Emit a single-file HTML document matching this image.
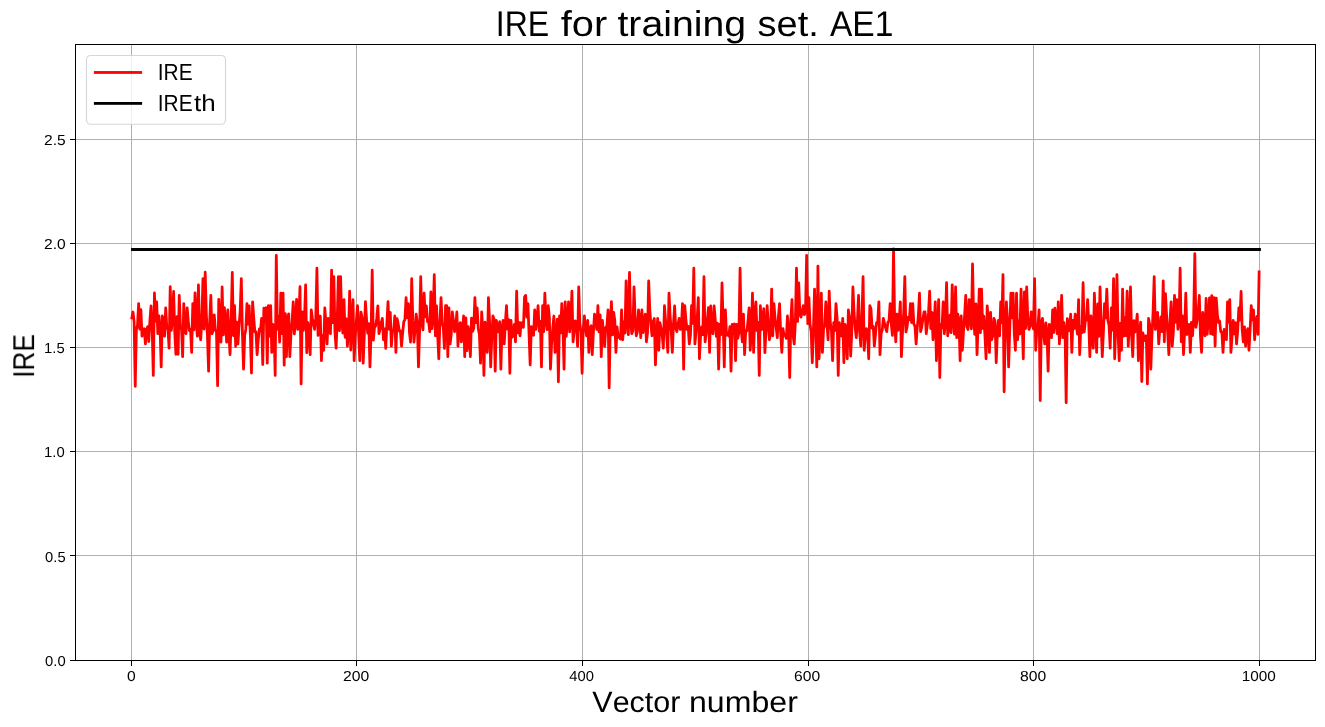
<!DOCTYPE html>
<html lang="en">
<head>
<meta charset="utf-8">
<title>IRE for training set. AE1</title>
<style>
html,body{margin:0;padding:0;background:#ffffff;}
body{width:1325px;height:727px;overflow:hidden;font-family:"Liberation Sans",sans-serif;}
svg{display:block;position:absolute;left:0;top:0;}
text{font-family:"Liberation Sans",sans-serif;font-kerning:none;white-space:pre;text-rendering:geometricPrecision;}
</style>
</head>
<body>
<svg width="1325" height="727" viewBox="0 0 1325 727">
<rect x="0" y="0" width="1325" height="727" fill="#ffffff"/>
<g fill="#b0b0b0" shape-rendering="crispEdges">
<rect x="131" y="44" width="1" height="616"/>
<rect x="356" y="44" width="1" height="616"/>
<rect x="582" y="44" width="1" height="616"/>
<rect x="808" y="44" width="1" height="616"/>
<rect x="1033" y="44" width="1" height="616"/>
<rect x="1259" y="44" width="1" height="616"/>
<rect x="75" y="555" width="1240" height="1"/>
<rect x="75" y="451" width="1240" height="1"/>
<rect x="75" y="347" width="1240" height="1"/>
<rect x="75" y="243" width="1240" height="1"/>
<rect x="75" y="139" width="1240" height="1"/>
</g>
<clipPath id="ax"><rect x="75.5" y="44.5" width="1240" height="616"/></clipPath>
<g clip-path="url(#ax)" fill="none">
<polyline points="131.86,318.00 132.99,312.01 134.12,321.91 135.24,386.33 136.37,329.71 137.50,325.22 138.63,303.54 139.76,329.08 140.89,309.71 142.01,336.11 143.14,332.41 144.27,328.72 145.40,343.97 146.53,329.66 147.66,326.66 148.78,341.55 149.91,320.44 151.04,305.96 152.17,328.80 153.30,375.44 154.43,293.01 155.55,321.03 156.68,301.85 157.81,333.69 158.94,316.01 160.07,329.23 161.20,366.97 162.33,316.01 163.45,321.10 164.58,336.11 165.71,307.90 166.84,328.23 167.97,329.14 169.10,348.21 170.22,286.72 171.35,330.29 172.48,316.92 173.61,291.44 174.74,331.67 175.87,354.26 176.99,316.69 178.12,354.26 179.25,295.43 180.38,325.61 181.51,329.22 182.64,356.68 183.76,303.54 184.89,329.65 186.02,333.69 187.15,307.90 188.28,321.30 189.41,330.57 190.54,329.64 191.66,352.45 192.79,303.54 193.92,329.95 195.05,293.01 196.18,319.39 197.31,336.11 198.43,284.78 199.56,331.48 200.69,339.74 201.82,320.12 202.95,278.73 204.08,329.00 205.20,272.19 206.33,314.03 207.46,336.07 208.59,371.21 209.72,321.08 210.85,295.43 211.97,333.69 213.10,330.69 214.23,314.80 215.36,329.13 216.49,332.13 217.62,385.73 218.75,299.43 219.87,322.10 221.00,342.16 222.13,286.96 223.26,334.86 224.39,307.54 225.52,322.55 226.64,342.16 227.77,309.96 228.90,333.10 230.03,354.63 231.16,320.30 232.29,272.44 233.41,335.50 234.54,305.72 235.67,346.40 236.80,322.20 237.93,343.97 239.06,325.84 240.18,310.82 241.31,278.73 242.44,334.56 243.57,369.15 244.70,335.28 245.83,328.91 246.96,303.54 248.08,324.19 249.21,305.96 250.34,334.62 251.47,373.02 252.60,301.85 253.73,317.48 254.85,331.87 255.98,331.71 257.11,354.63 258.24,339.82 259.37,328.98 260.50,330.31 261.62,318.43 262.75,364.55 263.88,308.14 265.01,320.86 266.14,307.54 267.27,363.10 268.39,305.72 269.52,336.06 270.65,305.72 271.78,352.45 272.91,324.48 274.04,327.48 275.17,375.44 276.29,255.49 277.42,328.99 278.55,316.08 279.68,342.16 280.81,293.25 281.94,333.68 283.06,293.25 284.19,365.15 285.32,313.59 286.45,356.68 287.58,317.92 288.71,313.83 289.83,356.68 290.96,334.59 292.09,320.77 293.22,301.85 294.35,333.85 295.48,320.81 296.60,299.43 297.73,329.44 298.86,318.35 299.99,286.72 301.12,383.91 302.25,311.77 303.38,330.48 304.50,318.42 305.63,284.90 306.76,352.69 307.89,322.66 309.02,332.09 310.15,354.63 311.27,309.96 312.40,318.28 313.53,324.70 314.66,329.45 315.79,317.95 316.92,268.20 318.04,335.41 319.17,324.88 320.30,316.01 321.43,360.68 322.56,335.57 323.69,350.27 324.81,307.78 325.94,323.29 327.07,343.97 328.20,318.43 329.33,329.91 330.46,333.69 331.59,270.26 332.71,322.64 333.84,276.67 334.97,332.38 336.10,348.21 337.23,319.79 338.36,276.67 339.48,330.60 340.61,276.67 341.74,321.15 342.87,333.03 344.00,299.67 345.13,337.32 346.25,318.98 347.38,346.15 348.51,333.44 349.64,291.20 350.77,350.03 351.90,319.09 353.02,299.67 354.15,360.68 355.28,335.64 356.41,320.67 357.54,305.72 358.67,334.74 359.80,360.68 360.92,312.13 362.05,317.50 363.18,363.10 364.31,334.88 365.44,301.73 366.57,319.70 367.69,333.02 368.82,323.67 369.95,366.97 371.08,333.57 372.21,270.26 373.34,340.10 374.46,327.78 375.59,326.04 376.72,318.66 377.85,305.96 378.98,333.69 380.11,329.20 381.23,322.65 382.36,318.43 383.49,339.74 384.62,328.92 385.75,348.45 386.88,323.29 388.01,301.73 389.13,329.31 390.26,312.38 391.39,346.15 392.52,330.20 393.65,330.78 394.78,316.01 395.90,352.45 397.03,318.67 398.16,323.61 399.29,331.05 400.42,330.88 401.55,346.15 402.67,332.65 403.80,321.73 404.93,319.61 406.06,297.61 407.19,317.71 408.32,303.54 409.44,332.23 410.57,342.16 411.70,278.73 412.83,320.63 413.96,342.16 415.09,329.19 416.22,314.19 417.34,323.68 418.47,366.97 419.60,331.24 420.73,276.67 421.86,322.38 422.99,329.79 424.11,293.25 425.24,316.89 426.37,305.96 427.50,321.57 428.63,321.61 429.76,331.63 430.88,291.80 432.01,328.72 433.14,316.67 434.27,274.62 435.40,335.74 436.53,305.96 437.65,334.07 438.78,358.74 439.91,322.41 441.04,297.61 442.17,323.00 443.30,327.33 444.43,348.45 445.55,305.72 446.68,305.72 447.81,356.68 448.94,307.90 450.07,343.97 451.20,334.68 452.32,312.01 453.45,320.24 454.58,331.63 455.71,328.63 456.84,312.01 457.97,346.15 459.09,325.66 460.22,322.66 461.35,341.80 462.48,330.28 463.61,316.01 464.74,356.68 465.86,318.01 466.99,350.63 468.12,326.66 469.25,335.32 470.38,356.68 471.51,318.05 472.64,331.27 473.76,328.27 474.89,297.61 476.02,322.69 477.15,307.90 478.28,328.82 479.41,334.48 480.53,363.10 481.66,312.01 482.79,328.72 483.92,375.44 485.05,322.26 486.18,334.04 487.30,352.45 488.43,297.61 489.56,320.92 490.69,366.97 491.82,336.00 492.95,316.01 494.07,319.01 495.20,371.21 496.33,320.49 497.46,326.18 498.59,331.87 499.72,321.58 500.85,369.15 501.97,330.31 503.10,320.49 504.23,343.97 505.36,322.93 506.49,305.72 507.62,329.18 508.74,319.51 509.87,373.26 511.00,320.49 512.13,337.20 513.26,335.70 514.39,324.48 515.51,341.80 516.64,291.20 517.77,332.74 518.90,322.36 520.03,335.74 521.16,322.66 522.28,324.97 523.41,327.27 524.54,296.88 525.67,295.43 526.80,317.22 527.93,303.54 529.06,334.50 530.18,364.91 531.31,326.66 532.44,334.09 533.57,335.32 534.70,309.96 535.83,329.45 536.95,318.09 538.08,305.72 539.21,331.20 540.34,321.33 541.47,366.97 542.60,305.72 543.72,331.71 544.85,293.25 545.98,318.70 547.11,329.52 548.24,305.72 549.37,317.26 550.49,369.15 551.62,343.19 552.75,328.53 553.88,316.01 555.01,352.45 556.14,335.11 557.27,319.24 558.39,381.74 559.52,316.01 560.65,332.89 561.78,303.54 562.91,324.39 564.04,369.15 565.16,301.85 566.29,336.27 567.42,320.29 568.55,301.85 569.68,331.97 570.81,317.89 571.93,291.20 573.06,341.80 574.19,330.51 575.32,320.85 576.45,323.85 577.58,346.40 578.70,286.96 579.83,323.08 580.96,332.15 582.09,373.26 583.22,330.57 584.35,316.01 585.48,327.53 586.60,335.78 587.73,320.49 588.86,352.45 589.99,328.69 591.12,325.69 592.25,354.63 593.37,333.17 594.50,314.19 595.63,317.27 596.76,329.45 597.89,305.72 599.02,331.87 600.14,314.80 601.27,356.68 602.40,320.49 603.53,332.69 604.66,346.40 605.79,327.61 606.91,326.03 608.04,309.96 609.17,387.79 610.30,324.47 611.43,301.73 612.56,334.89 613.69,312.38 614.81,320.71 615.94,352.45 617.07,326.90 618.20,337.35 619.33,337.05 620.46,339.17 621.58,309.96 622.71,339.74 623.84,321.89 624.97,332.98 626.10,280.91 627.23,322.51 628.35,334.68 629.48,272.44 630.61,320.01 631.74,333.69 632.87,330.69 634.00,286.96 635.12,317.20 636.25,335.74 637.38,332.05 638.51,309.96 639.64,319.60 640.77,337.68 641.90,309.96 643.02,332.54 644.15,323.81 645.28,314.19 646.41,341.80 647.54,332.77 648.67,280.91 649.79,309.93 650.92,325.11 652.05,335.74 653.18,321.43 654.31,318.43 655.44,364.91 656.56,335.51 657.69,318.43 658.82,350.27 659.95,322.66 661.08,328.42 662.21,335.14 663.33,348.21 664.46,305.72 665.59,320.66 666.72,336.46 667.85,352.45 668.98,293.25 670.11,315.38 671.23,331.16 672.36,352.45 673.49,323.53 674.62,305.96 675.75,328.63 676.88,331.63 678.00,323.92 679.13,318.43 680.26,329.45 681.39,326.45 682.52,303.54 683.65,369.15 684.77,305.72 685.90,319.60 687.03,329.35 688.16,326.32 689.29,343.97 690.42,335.68 691.54,305.72 692.67,323.26 693.80,268.20 694.93,343.97 696.06,331.15 697.19,318.21 698.32,297.61 699.44,358.74 700.57,335.56 701.70,326.90 702.83,334.66 703.96,276.67 705.09,341.80 706.21,333.25 707.34,320.13 708.47,307.54 709.60,352.45 710.73,305.96 711.86,330.69 712.98,333.69 714.11,305.96 715.24,319.17 716.37,336.36 717.50,323.21 718.63,369.15 719.75,324.48 720.88,334.60 722.01,282.97 723.14,321.79 724.27,366.97 725.40,309.96 726.53,335.21 727.65,332.81 728.78,336.18 729.91,326.66 731.04,371.21 732.17,324.36 733.30,333.49 734.42,323.99 735.55,360.68 736.68,324.48 737.81,338.25 738.94,332.60 740.07,268.20 741.19,328.82 742.32,341.80 743.45,314.19 744.58,354.63 745.71,330.61 746.84,330.96 747.96,321.52 749.09,307.90 750.22,350.27 751.35,331.88 752.48,293.25 753.61,352.45 754.74,317.21 755.86,301.85 756.99,330.72 758.12,322.43 759.25,375.44 760.38,305.72 761.51,329.69 762.63,320.35 763.76,308.75 764.89,352.69 766.02,329.22 767.15,305.72 768.28,324.04 769.40,339.74 770.53,334.01 771.66,289.14 772.79,335.74 773.92,303.54 775.05,318.01 776.17,327.69 777.30,337.68 778.43,316.99 779.56,303.54 780.69,333.58 781.82,352.45 782.95,328.72 784.07,335.39 785.20,335.35 786.33,338.35 787.46,316.01 788.59,331.21 789.72,377.50 790.84,320.08 791.97,299.67 793.10,335.91 794.23,343.97 795.36,322.36 796.49,268.20 797.61,321.46 798.74,282.97 799.87,314.10 801.00,317.10 802.13,311.41 803.26,305.72 804.38,314.68 805.51,311.68 806.64,255.49 807.77,323.62 808.90,297.61 810.03,324.11 811.16,331.96 812.28,362.73 813.41,331.00 814.54,289.14 815.67,322.06 816.80,366.97 817.93,266.14 819.05,358.74 820.18,334.58 821.31,293.25 822.44,352.45 823.57,328.88 824.70,325.61 825.82,301.85 826.95,323.08 828.08,339.74 829.21,291.20 830.34,322.82 831.47,330.94 832.59,360.68 833.72,322.66 834.85,330.50 835.98,303.54 837.11,318.64 838.24,375.44 839.37,322.66 840.49,332.91 841.62,336.14 842.75,318.43 843.88,362.73 845.01,324.48 846.14,329.35 847.26,358.74 848.39,309.96 849.52,317.95 850.65,356.08 851.78,331.96 852.91,286.96 854.03,312.20 855.16,327.73 856.29,337.68 857.42,321.36 858.55,295.43 859.68,332.55 860.80,346.15 861.93,319.00 863.06,276.67 864.19,350.27 865.32,336.36 866.45,328.72 867.58,331.72 868.70,358.74 869.83,305.72 870.96,308.75 872.09,328.19 873.22,326.27 874.35,346.15 875.47,334.33 876.60,322.63 877.73,322.10 878.86,301.85 879.99,354.63 881.12,333.31 882.24,330.02 883.37,318.43 884.50,323.38 885.63,327.93 886.76,331.63 887.89,322.36 889.01,320.77 890.14,303.54 891.27,323.82 892.40,335.46 893.53,248.84 894.66,322.24 895.79,341.80 896.91,314.19 898.04,330.44 899.17,321.45 900.30,301.85 901.43,356.68 902.56,331.04 903.68,312.87 904.81,276.67 905.94,331.87 907.07,326.83 908.20,317.21 909.33,319.75 910.45,303.54 911.58,322.54 912.71,303.54 913.84,324.00 914.97,326.07 916.10,343.97 917.22,327.79 918.35,315.80 919.48,293.25 920.61,331.63 921.74,326.86 922.87,319.51 924.00,312.01 925.12,312.01 926.25,333.69 927.38,324.82 928.51,312.91 929.64,291.20 930.77,328.54 931.89,312.38 933.02,339.74 934.15,323.78 935.28,301.85 936.41,360.68 937.54,331.70 938.66,299.67 939.79,377.50 940.92,324.17 942.05,327.87 943.18,301.85 944.31,333.69 945.43,322.07 946.56,282.72 947.69,335.74 948.82,326.70 949.95,315.07 951.08,332.73 952.21,284.90 953.33,318.50 954.46,334.23 955.59,286.96 956.72,337.68 957.85,314.19 958.98,321.38 960.10,360.68 961.23,316.01 962.36,350.27 963.49,331.55 964.62,315.17 965.75,295.43 966.87,326.45 968.00,329.45 969.13,299.67 970.26,318.71 971.39,328.85 972.52,263.96 973.64,317.36 974.77,334.37 975.90,303.90 977.03,354.63 978.16,323.39 979.29,289.14 980.42,332.69 981.54,289.14 982.67,328.44 983.80,316.01 984.93,335.11 986.06,358.74 987.19,305.96 988.31,319.83 989.44,352.45 990.57,312.38 991.70,339.74 992.83,335.64 993.96,318.43 995.08,321.43 996.21,362.73 997.34,334.05 998.47,320.49 999.60,335.74 1000.73,301.85 1001.85,322.66 1002.98,274.62 1004.11,391.78 1005.24,329.56 1006.37,301.85 1007.50,321.61 1008.63,366.97 1009.75,329.34 1010.88,293.25 1012.01,317.81 1013.14,293.25 1014.27,333.52 1015.40,350.27 1016.52,293.25 1017.65,339.74 1018.78,321.18 1019.91,333.95 1021.04,289.14 1022.17,320.59 1023.29,358.74 1024.42,291.80 1025.55,328.53 1026.68,286.96 1027.81,318.51 1028.94,329.45 1030.06,326.45 1031.19,312.01 1032.32,323.29 1033.45,329.03 1034.58,278.73 1035.71,350.27 1036.84,329.66 1037.96,326.24 1039.09,309.96 1040.22,400.50 1041.35,322.38 1042.48,318.43 1043.61,334.33 1044.73,343.97 1045.86,322.86 1046.99,334.02 1048.12,371.21 1049.25,324.48 1050.38,327.48 1051.50,337.68 1052.63,309.96 1053.76,332.33 1054.89,308.14 1056.02,319.08 1057.15,333.64 1058.27,301.85 1059.40,343.97 1060.53,323.32 1061.66,295.43 1062.79,337.68 1063.92,322.66 1065.05,330.53 1066.17,402.67 1067.30,318.55 1068.43,330.94 1069.56,328.14 1070.69,314.19 1071.82,352.45 1072.94,320.49 1074.07,328.60 1075.20,314.19 1076.33,325.57 1077.46,334.04 1078.59,299.67 1079.71,354.63 1080.84,326.42 1081.97,332.63 1083.10,282.72 1084.23,331.87 1085.36,320.96 1086.48,319.64 1087.61,299.67 1088.74,323.55 1089.87,356.68 1091.00,316.01 1092.13,335.65 1093.26,348.21 1094.38,293.25 1095.51,322.91 1096.64,352.45 1097.77,303.90 1098.90,336.33 1100.03,286.96 1101.15,324.36 1102.28,356.68 1103.41,332.17 1104.54,303.54 1105.67,317.94 1106.80,289.14 1107.92,320.46 1109.05,325.44 1110.18,348.21 1111.31,307.90 1112.44,330.18 1113.57,278.73 1114.69,358.74 1115.82,322.81 1116.95,274.62 1118.08,333.15 1119.21,360.68 1120.34,323.37 1121.47,350.27 1122.59,289.14 1123.72,336.12 1124.85,317.94 1125.98,335.59 1127.11,291.20 1128.24,346.15 1129.36,322.65 1130.49,286.96 1131.62,335.68 1132.75,356.68 1133.88,320.61 1135.01,332.07 1136.13,324.64 1137.26,314.19 1138.39,360.68 1139.52,332.43 1140.65,322.08 1141.78,381.49 1142.90,332.84 1144.03,340.72 1145.16,335.84 1146.29,335.84 1147.42,383.91 1148.55,318.43 1149.68,324.49 1150.80,369.15 1151.93,336.41 1153.06,312.64 1154.19,276.67 1155.32,329.46 1156.45,325.59 1157.57,312.38 1158.70,343.97 1159.83,329.51 1160.96,316.98 1162.09,331.64 1163.22,280.91 1164.34,341.80 1165.47,293.62 1166.60,315.23 1167.73,333.75 1168.86,354.63 1169.99,321.61 1171.11,301.85 1172.24,346.15 1173.37,331.92 1174.50,295.43 1175.63,322.30 1176.76,299.67 1177.89,329.31 1179.01,322.22 1180.14,268.20 1181.27,341.80 1182.40,316.01 1183.53,354.63 1184.66,330.49 1185.78,293.25 1186.91,334.57 1188.04,333.47 1189.17,324.48 1190.30,352.45 1191.43,322.30 1192.55,335.57 1193.68,318.00 1194.81,253.68 1195.94,327.27 1197.07,320.47 1198.20,311.62 1199.32,295.43 1200.45,336.03 1201.58,352.45 1202.71,312.38 1203.84,320.11 1204.97,335.74 1206.10,298.46 1207.22,334.26 1208.35,318.64 1209.48,297.85 1210.61,333.69 1211.74,295.67 1212.87,334.52 1213.99,297.61 1215.12,346.15 1216.25,298.09 1217.38,314.68 1218.51,322.55 1219.64,321.18 1220.76,331.92 1221.89,332.06 1223.02,352.45 1224.15,329.32 1225.28,334.53 1226.41,339.74 1227.53,301.85 1228.66,322.12 1229.79,299.67 1230.92,352.45 1232.05,336.31 1233.18,320.49 1234.31,333.91 1235.43,322.66 1236.56,343.97 1237.69,330.91 1238.82,307.90 1239.95,320.04 1241.08,291.44 1242.20,329.84 1243.33,341.80 1244.46,326.90 1245.59,346.15 1246.72,331.72 1247.85,328.72 1248.97,350.27 1250.10,330.16 1251.23,305.72 1252.36,319.93 1253.49,309.96 1254.62,339.74 1255.74,321.04 1256.87,316.53 1258.00,334.29 1259.13,271.83" stroke="#ff0000" stroke-width="2.78" stroke-linejoin="round" stroke-linecap="square"/>
<rect x="131.1" y="248" width="1129.8" height="3" fill="#000000" stroke="none"/>
</g>
<g fill="#000000" shape-rendering="crispEdges">
<rect x="131" y="661" width="1" height="4.6"/>
<rect x="356" y="661" width="1" height="4.6"/>
<rect x="582" y="661" width="1" height="4.6"/>
<rect x="808" y="661" width="1" height="4.6"/>
<rect x="1033" y="661" width="1" height="4.6"/>
<rect x="1259" y="661" width="1" height="4.6"/>
<rect x="70.2" y="660" width="4.8" height="1"/>
<rect x="70.2" y="555" width="4.8" height="1"/>
<rect x="70.2" y="451" width="4.8" height="1"/>
<rect x="70.2" y="347" width="4.8" height="1"/>
<rect x="70.2" y="243" width="4.8" height="1"/>
<rect x="70.2" y="139" width="4.8" height="1"/>
<rect x="75" y="44" width="1" height="617"/>
<rect x="1315" y="44" width="1" height="617"/>
<rect x="75" y="44" width="1241" height="1"/>
<rect x="75" y="660" width="1241" height="1"/>
</g>
<rect x="86.5" y="55.5" width="139.0" height="68.8" rx="4.2" ry="4.2" fill="#ffffff" fill-opacity="0.8" stroke="#cccccc" stroke-opacity="0.8" stroke-width="1.1"/>
<rect x="93.9" y="71.05" width="48.2" height="2.8" fill="#ff0000"/>
<rect x="93.9" y="102" width="48.2" height="2.8" fill="#000000"/>
<g font-family="'Liberation Sans', sans-serif" fill="#000000" opacity="0.999">
<text y="35.70" font-size="35.8"><tspan x="495.74" textLength="53.44" lengthAdjust="spacingAndGlyphs">IRE</tspan> <tspan x="560.74" textLength="46.42" lengthAdjust="spacingAndGlyphs">for</tspan> <tspan x="617.46" textLength="128.67" lengthAdjust="spacingAndGlyphs">training</tspan> <tspan x="757.54" textLength="61.33" lengthAdjust="spacingAndGlyphs">set.</tspan> <tspan x="829.93" textLength="63.51" lengthAdjust="spacingAndGlyphs">AE1</tspan></text>
<text y="711.70" font-size="29.5"><tspan x="592.37" textLength="87.94" lengthAdjust="spacingAndGlyphs">Vector</tspan> <tspan x="688.97" textLength="108.87" lengthAdjust="spacingAndGlyphs">number</tspan></text>
<text y="0.00" font-size="30.2" transform="translate(34.1 375.3) rotate(-90)"><tspan x="-2.42" textLength="43.64" lengthAdjust="spacingAndGlyphs">IRE</tspan></text>
<text y="80.00" font-size="23.3"><tspan x="157.77" textLength="34.88" lengthAdjust="spacingAndGlyphs">IRE</tspan></text>
<text y="110.90" font-size="23.3"><tspan x="157.77" textLength="34.88" lengthAdjust="spacingAndGlyphs">IRE</tspan><tspan x="194.11" textLength="21.68" lengthAdjust="spacingAndGlyphs">th</tspan></text>
<text y="681.00" font-size="14.5"><tspan x="127.09" textLength="8.73" lengthAdjust="spacingAndGlyphs">0</tspan></text>
<text y="681.00" font-size="14.5"><tspan x="343.01" textLength="26.20" lengthAdjust="spacingAndGlyphs">200</tspan></text>
<text y="681.00" font-size="14.5"><tspan x="569.36" textLength="24.61" lengthAdjust="spacingAndGlyphs">400</tspan></text>
<text y="681.00" font-size="14.5"><tspan x="794.01" textLength="26.11" lengthAdjust="spacingAndGlyphs">600</tspan></text>
<text y="681.00" font-size="14.5"><tspan x="1020.12" textLength="26.20" lengthAdjust="spacingAndGlyphs">800</tspan></text>
<text y="681.00" font-size="14.5"><tspan x="1241.83" textLength="34.06" lengthAdjust="spacingAndGlyphs">1000</tspan></text>
<text y="666.00" font-size="14.5"><tspan x="45.12" textLength="20.56" lengthAdjust="spacingAndGlyphs">0.0</tspan></text>
<text y="561.90" font-size="14.5"><tspan x="45.12" textLength="20.50" lengthAdjust="spacingAndGlyphs">0.5</tspan></text>
<text y="457.00" font-size="14.5"><tspan x="44.07" textLength="20.61" lengthAdjust="spacingAndGlyphs">1.0</tspan></text>
<text y="352.90" font-size="14.5"><tspan x="44.07" textLength="20.60" lengthAdjust="spacingAndGlyphs">1.5</tspan></text>
<text y="249.00" font-size="14.5"><tspan x="44.02" textLength="21.64" lengthAdjust="spacingAndGlyphs">2.0</tspan></text>
<text y="144.90" font-size="14.5"><tspan x="44.02" textLength="21.64" lengthAdjust="spacingAndGlyphs">2.5</tspan></text>
</g>
</svg>
</body>
</html>
